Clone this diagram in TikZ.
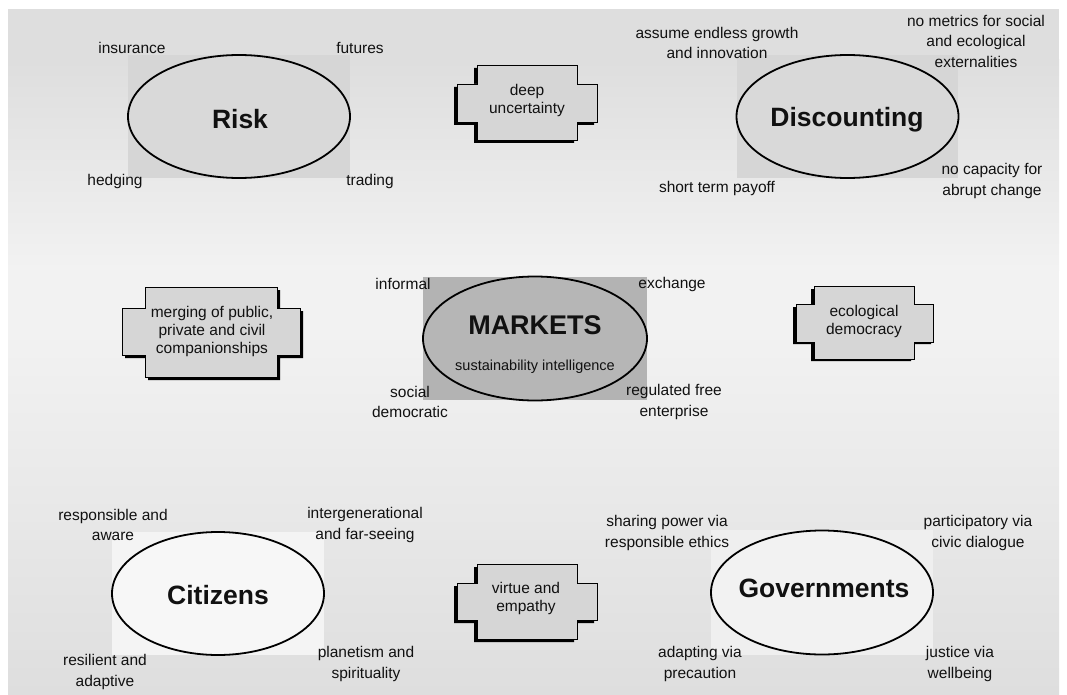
\documentclass[tikz,border=0pt]{standalone}
\usepackage{fontspec}
\setmainfont{Liberation Sans}
\usetikzlibrary{shapes.geometric}
\definecolor{bgdark}{HTML}{DEDEDE}
\definecolor{bglight}{HTML}{F2F2F2}
\definecolor{boxgray}{HTML}{D6D6D6}
\definecolor{ovalgray}{HTML}{D9D9D9}
\definecolor{mktrect}{HTML}{B3B3B3}
\definecolor{mktoval}{HTML}{B6B6B6}
\definecolor{citrect}{HTML}{F4F4F4}
\definecolor{citoval}{HTML}{F7F7F7}
\definecolor{govrect}{HTML}{EFEFEF}
\definecolor{govoval}{HTML}{F2F2F2}
\definecolor{txt}{HTML}{111111}
\begin{document}
\begin{tikzpicture}[x=1pt,y=-1pt,
  oval/.style={ellipse, draw=black, line width=1.8pt, inner sep=0pt, minimum width=#1},
  oval/.default=222pt,
  lbl/.style={font=\fontsize{15.5}{20.5}\selectfont, align=center, text=txt, inner sep=0pt},
  boxlbl/.style={font=\fontsize{15.5}{18}\selectfont, align=center, text=txt, inner sep=0pt},
  ttl/.style={font=\bfseries\fontsize{26.5}{30}\selectfont, text=txt, inner sep=0pt},
  crossbox/.style={fill=boxgray, draw=black, line width=0.9pt, line join=miter},
  crossshadow/.style={fill=black}]
\useasboundingbox (0,0) rectangle (1067,695);
\fill[white] (0,0) rectangle (1067,695);
\shade[top color=bgdark,bottom color=bglight] (8,60) rectangle (1059,270);
\fill[bgdark] (8,9) rectangle (1059,60.5);
\fill[bglight] (8,269.5) rectangle (1059,330.5);
\shade[top color=bglight,bottom color=bgdark] (8,330) rectangle (1059,695);

% ---------- Risk ----------
\fill[boxgray] (128,55) rectangle (350,178);
\node[oval, fill=ovalgray, minimum height=123pt] (risk) at (239,116.5) {};
\node[ttl] (risktxt) at (240,119) {Risk};
\node[lbl] (insurance) at (132,48) {insurance};
\node[lbl] (futures) at (360,48) {futures};
\node[lbl] (hedging) at (115,181) {hedging};
\node[lbl] (trading) at (370,181) {trading};

% ---------- deep uncertainty ----------
\fill[crossshadow] (474,68) -- (574,68) -- (574,87) -- (594,87) -- (594,125) -- (574,125) -- (574,143) -- (474,143) -- (474,125) -- (454,125) -- (454,87) -- (474,87) -- cycle;
\draw[crossbox] (477,65) -- (577,65) -- (577,84) -- (597,84) -- (597,122) -- (577,122) -- (577,140) -- (477,140) -- (477,122) -- (457,122) -- (457,84) -- (477,84) -- cycle;
\node[boxlbl] (deep) at (527,100) {deep\\uncertainty};

% ---------- Discounting ----------
\fill[boxgray] (737,55) rectangle (958,178);
\node[oval, fill=ovalgray, minimum height=123pt] (disc) at (847.5,116.5) {};
\node[ttl] (disctxt) at (847,120) {Discounting};
\node[lbl] (assume) at (717,43) {assume endless growth\\and innovation};
\node[lbl] (metrics) at (976,41) {no metrics for social\\and ecological\\externalities};
\node[lbl] (short) at (717,188) {short term payoff};
\node[lbl] (capacity) at (992,181) {no capacity for\\abrupt change};

% ---------- merging ----------
\fill[crossshadow] (148,290) -- (280,290) -- (280,311) -- (303,311) -- (303,358) -- (280,358) -- (280,380) -- (148,380) -- (148,358) -- (125,358) -- (125,311) -- (148,311) -- cycle;
\draw[crossbox] (145,287) -- (277,287) -- (277,308) -- (300,308) -- (300,355) -- (277,355) -- (277,377) -- (145,377) -- (145,355) -- (122,355) -- (122,308) -- (145,308) -- cycle;
\node[boxlbl] (merging) at (212,331) {merging of public,\\private and civil\\companionships};

% ---------- MARKETS ----------
\fill[mktrect] (423,277) rectangle (647,400);
\node[oval, fill=mktoval, minimum width=224pt, minimum height=124pt] (markets) at (535,338.5) {};
\node[ttl, font=\bfseries\fontsize{27}{30}\selectfont] (mkttxt) at (535,325) {MARKETS};
\node[lbl, font=\fontsize{14.5}{18}\selectfont] (sustain) at (535,367) {sustainability intelligence};
\node[lbl] (informal) at (403,284) {informal};
\node[lbl] (exchange) at (672,284) {exchange};
\node[lbl] (social) at (410,402) {social\\democratic};
\node[lbl] (regulated) at (674,402) {regulated free\\enterprise};

% ---------- ecological democracy ----------
\fill[crossshadow] (811,289) -- (911,289) -- (911,307) -- (931,307) -- (931,344) -- (911,344) -- (911,361) -- (811,361) -- (811,344) -- (793,344) -- (793,307) -- (811,307) -- cycle;
\draw[crossbox] (814,286) -- (914,286) -- (914,304) -- (933,304) -- (933,342) -- (914,342) -- (914,359) -- (814,359) -- (814,342) -- (796,342) -- (796,304) -- (814,304) -- cycle;
\node[boxlbl] (eco) at (864,321) {ecological\\democracy};

% ---------- Citizens ----------
\fill[citrect] (112,532) rectangle (324,655);
\node[oval, fill=citoval, minimum width=212pt, minimum height=123pt] (citizens) at (218,593.5) {};
\node[ttl] (cittxt) at (218,595) {Citizens};
\node[lbl] (responsible) at (113,525) {responsible and\\aware};
\node[lbl] (intergen) at (365,525) {intergenerational\\and far-seeing};
\node[lbl] (resilient) at (105,672) {resilient and\\adaptive};
\node[lbl] (planetism) at (366,664) {planetism and\\spirituality};

% ---------- virtue and empathy ----------
\fill[crossshadow] (474,567) -- (574,567) -- (574,586) -- (594,586) -- (594,623) -- (574,623) -- (574,642) -- (474,642) -- (474,623) -- (454,623) -- (454,586) -- (474,586) -- cycle;
\draw[crossbox] (477,564) -- (577,564) -- (577,583) -- (597,583) -- (597,620) -- (577,620) -- (577,639) -- (477,639) -- (477,620) -- (457,620) -- (457,583) -- (477,583) -- cycle;
\node[boxlbl] (virtue) at (526,598) {virtue and\\empathy};

% ---------- Governments ----------
\fill[govrect] (711,530) rectangle (933,655);
\node[oval, fill=govoval, minimum width=222pt, minimum height=124pt] (govs) at (822,592.5) {};
\node[ttl] (govtxt) at (824,588) {Governments};
\node[lbl] (sharing) at (667,533) {sharing power via\\responsible ethics};
\node[lbl] (particip) at (978,533) {participatory via\\civic dialogue};
\node[lbl] (adapting) at (700,664) {adapting via\\precaution};
\node[lbl] (justice) at (960,664) {justice via\\wellbeing};
\end{tikzpicture}
\end{document}
